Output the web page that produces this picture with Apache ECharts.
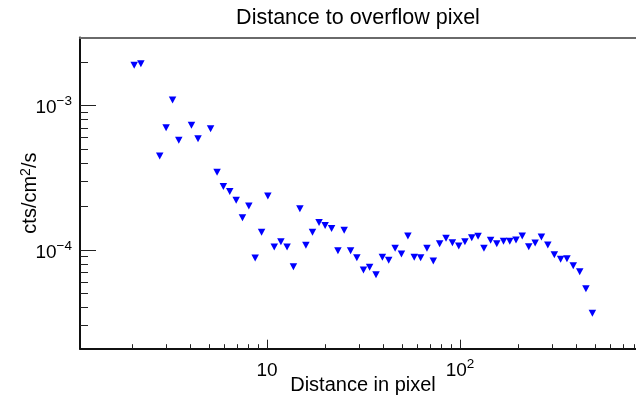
<!DOCTYPE html>
<html><head><meta charset="utf-8">
<script src="https://cdn.jsdelivr.net/npm/echarts@6/dist/echarts.min.js"></script>
<style>html,body{margin:0;padding:0;background:#fff}#c{width:636px;height:401px}</style>
</head><body><div id="c"></div>
<script>
const distance = [2.05,2.22,2.78,3.00,3.24,3.49,4.06,4.39,5.10,5.51,5.94,6.41,6.92,7.46,8.05,8.68,9.37,10.1,10.9,11.8,12.7,13.7,14.8,15.9,17.2,18.6,20.0,21.6,23.3,25.1,27.1,29.2,31.6,34.0,36.7,39.6,42.7,46.1,49.7,53.7,57.9,62.5,67.4,72.7,78.4,84.6,91.3,98.5,106,115,124,133,144,155,168,181,195,210,227,245,264,285,308,332,358,386,417,449,485];
const rate = [1.91e-3,1.95e-3,4.48e-4,7.04e-4,1.095e-3,5.76e-4,7.31e-4,5.91e-4,6.93e-4,3.46e-4,2.75e-4,2.54e-4,2.21e-4,1.67e-4,2.02e-4,8.80e-5,1.33e-4,2.37e-4,1.05e-4,1.14e-4,1.05e-4,7.66e-5,1.93e-4,1.08e-4,1.33e-4,1.55e-4,1.48e-4,1.41e-4,9.87e-5,1.37e-4,9.87e-5,8.83e-5,7.27e-5,7.59e-5,6.74e-5,8.90e-5,8.48e-5,1.03e-4,9.38e-5,1.25e-4,8.90e-5,8.84e-5,1.03e-4,8.39e-5,1.106e-4,1.205e-4,1.124e-4,1.066e-4,1.14e-4,1.217e-4,1.244e-4,1.027e-4,1.167e-4,1.106e-4,1.149e-4,1.149e-4,1.173e-4,1.25e-4,1.054e-4,1.118e-4,1.23e-4,1.083e-4,9.28e-5,8.62e-5,8.70e-5,7.78e-5,7.07e-5,5.39e-5,3.64e-5];
const xMajorTicks = [10, 100];
const xMinorTicks = [2,3,4,5,6,7,8,9,20,30,40,50,60,70,80,90,200,300,400,500,600,700,800];
const yMajorTicks = [1e-4, 1e-3];
const yMinorTicks = [3e-5,4e-5,5e-5,6e-5,7e-5,8e-5,9e-5,2e-4,3e-4,4e-4,5e-4,6e-4,7e-4,8e-4,9e-4,2e-3];
const titleText = 'Distance to overflow pixel';
const xTitle = 'Distance in pixel';
const yTitle = 'cts/cm{s|2}/s';

const FONT = '"Liberation Sans", Arial, Helvetica, sans-serif';
const X_RANGE = [1.074, 816];
const Y_RANGE = [2.07e-5, 2.97e-3];
const rich = {
  b: {fontSize: 19, lineHeight: 24, verticalAlign: 'bottom', fontFamily: FONT, color: '#000'},
  s: {fontSize: 13.5, lineHeight: 14, verticalAlign: 'bottom', padding: [0,0,9,0], fontFamily: FONT, color: '#000'}
};
function powLabel(v) {
  const e = Math.round(Math.log10(v));
  if (e === 1) return '{b|10}';
  return '{b|10}{s|' + (e < 0 ? '\u2212' + (-e) : e) + '}';
}
const pts = distance.map((d, i) => [d, rate[i]]);

const chart = echarts.init(document.getElementById('c'), null, {renderer: 'canvas'});
chart.setOption({
  animation: false,
  backgroundColor: '#fff',
  grid: {left: 80, right: 0, top: 37.5, bottom: 52.3, containLabel: false, outerBoundsMode: 'none'},
  graphic: [{type: 'text', x: 358, y: 18, style: {text: titleText, fontSize: 21.5, fontFamily: FONT, fill: '#000', textAlign: 'center', textVerticalAlign: 'middle'}}],
  xAxis: [
    {type: 'log', min: X_RANGE[0], max: X_RANGE[1], position: 'bottom',
     axisLine: {onZero: false, lineStyle: {color: '#111', width: 2}},
     axisTick: {inside: true, length: 9, customValues: xMajorTicks, lineStyle: {color: '#222', width: 1}},
     axisLabel: {customValues: xMajorTicks, formatter: powLabel, rich: rich, margin: 8},
     splitLine: {show: false}, minorTick: {show: false},
     name: xTitle, nameLocation: 'middle', nameGap: 27, nameMoveOverlap: false,
     nameTextStyle: {fontSize: 20, fontFamily: FONT, color: '#000', padding: [0,0,0,10]}},
    {type: 'log', min: X_RANGE[0], max: X_RANGE[1], position: 'bottom',
     axisLine: {show: false, onZero: false},
     axisTick: {inside: true, length: 4.5, customValues: xMinorTicks, lineStyle: {color: '#222', width: 1}},
     axisLabel: {show: false}, splitLine: {show: false}},
    {type: 'value', min: 0, max: 1, position: 'top',
     axisLine: {onZero: false, lineStyle: {color: '#6a6a6a', width: 2}},
     axisTick: {show: false}, axisLabel: {show: false}, splitLine: {show: false}}
  ],
  yAxis: [
    {type: 'log', min: Y_RANGE[0], max: Y_RANGE[1], position: 'left',
     axisLine: {onZero: false, lineStyle: {color: '#111', width: 2}},
     axisTick: {inside: true, length: 16, customValues: yMajorTicks, lineStyle: {color: '#222', width: 1}},
     axisLabel: {customValues: yMajorTicks, formatter: powLabel, rich: rich, margin: 8},
     splitLine: {show: false}, minorTick: {show: false},
     name: yTitle, nameLocation: 'middle', nameGap: 39, nameMoveOverlap: false,
     nameTextStyle: {fontSize: 20, fontFamily: FONT, color: '#000',
       rich: {s: {fontSize: 14, verticalAlign: 'bottom', padding: [0,0,8,0], fontFamily: FONT, color: '#000'}}}},
    {type: 'log', min: Y_RANGE[0], max: Y_RANGE[1], position: 'left',
     axisLine: {show: false, onZero: false},
     axisTick: {inside: true, length: 8, customValues: yMinorTicks, lineStyle: {color: '#222', width: 1}},
     axisLabel: {show: false}, splitLine: {show: false}}
  ],
  series: [{
    type: 'scatter', xAxisIndex: 0, yAxisIndex: 0, data: pts,
    symbol: 'triangle', symbolRotate: 180, symbolSize: [7.5, 7],
    itemStyle: {color: '#0000ff', opacity: 1}
  }]
});
</script></body></html>
